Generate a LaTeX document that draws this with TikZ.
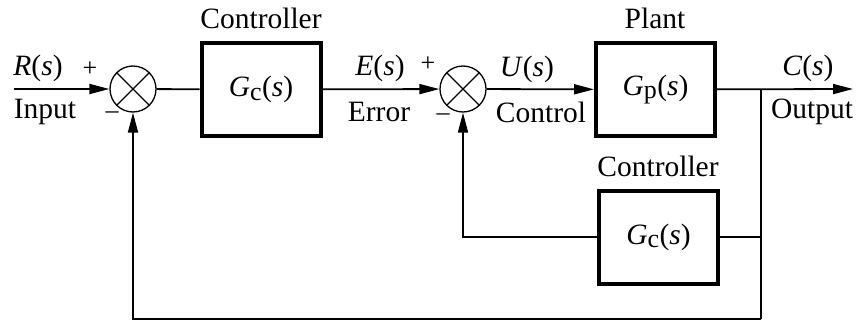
\documentclass[tikz,border=0pt]{standalone}
\usepackage{fontspec}
\setmainfont{Liberation Serif}
\usepackage{tikz}
\usetikzlibrary{arrows.meta}
\tikzstyle{block}=[draw=black,rectangle,line width=4pt,minimum width=119pt,minimum height=93pt,inner sep=0pt]
\tikzstyle{sum}=[draw=black,circle,line width=1.3pt,minimum size=46pt,inner sep=0pt]
\tikzstyle{lbl}=[font=\fontsize{29.5}{34}\selectfont,inner sep=0pt]
\tikzstyle{sgn}=[font=\fontsize{26}{30}\selectfont,inner sep=0pt]
\tikzstyle{sig}=[line width=1.8pt]
\tikzstyle{arr}=[sig,-{Triangle[length=20pt,width=10pt]}]
\newcommand{\tf}[2]{\textit{#1}\textsubscript{\fontsize{26}{30}\selectfont #2}(\textit{s})}

\begin{document}
\begin{tikzpicture}[x=1pt,y=1pt]
\useasboundingbox (0,0) rectangle (858,322);
\node[sum] (s1) at (133,233) {};
\node[sum] (s2) at (463,233) {};
\node[block] (b1) at (261,232.5) {\fontsize{29.5}{34}\selectfont\tf{G}{c}};
\node[block] (b2) at (655.5,232.5) {\fontsize{29.5}{34}\selectfont\tf{G}{p}};
\node[block] (b3) at (658.5,85) {\fontsize{29.5}{34}\selectfont\tf{G}{c}};
\coordinate (in) at (14,233);
\coordinate (out) at (853,233);
\coordinate (br1) at (761,233);
\coordinate (br2) at (761,85);
\coordinate (br3) at (761,3);
\draw[line width=1.3pt] (s1.north east) -- (s1.south west);
\draw[line width=1.3pt] (s1.north west) -- (s1.south east);
\draw[line width=1.3pt] (s2.north east) -- (s2.south west);
\draw[line width=1.3pt] (s2.north west) -- (s2.south east);
\draw[arr] (in) -- (s1);
\draw[sig] (s1) -- (b1);
\draw[arr] (b1) -- (s2);
\draw[arr] (s2) -- (b2);
\draw[arr] (b2) -- (out);
\draw[sig] (br1) -- (br3);
\draw[sig] (br2) -- (b3);
\draw[arr] (b3) -| (s2.south);
\draw[arr] (br3) -| (s1.south);
\node[lbl] (r) at (38,254) {\textit{R}(\textit{s})};
\node[lbl] (i) at (45,210) {Input};
\node[sgn] (p1) at (90,253) {+};
\node[sgn] (m1) at (112,207) {--};
\node[lbl] (t1) at (261,304) {Controller};
\node[lbl] (e) at (380,254) {\textit{E}(\textit{s})};
\node[lbl] (er) at (379,210) {Error};
\node[sgn] (p2) at (428,258) {+};
\node[sgn] (m2) at (443,205) {--};
\node[lbl] (u) at (527,253) {\textit{U}(\textit{s})};
\node[lbl] (co) at (541,210) {Control};
\node[lbl] (t2) at (655,304) {Plant};
\node[lbl] (c) at (808,254) {\textit{C}(\textit{s})};
\node[lbl] (o) at (812,210) {Output};
\node[lbl] (t3) at (658,156) {Controller};
\end{tikzpicture}
\end{document}
